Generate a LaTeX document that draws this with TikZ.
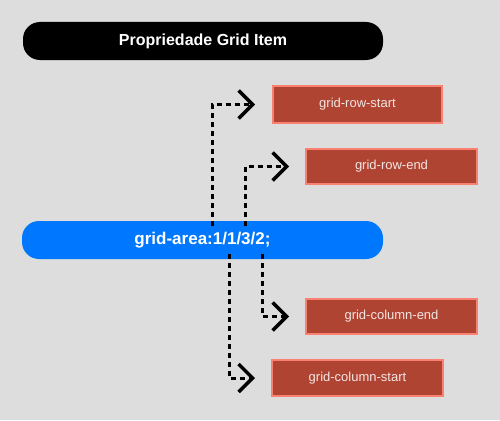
\documentclass[tikz,border=0pt]{standalone}
\usepackage{fontspec}
\setmainfont{Liberation Sans}
\usetikzlibrary{arrows.meta}
\definecolor{bgc}{RGB}{221,221,221}
\definecolor{barblue}{RGB}{0,119,255}
\definecolor{boxfill}{RGB}{176,68,50}
\definecolor{boxline}{RGB}{250,128,114}
\definecolor{boxtext}{RGB}{242,230,228}
\tikzset{
  pill/.style={rounded corners=17pt, inner sep=0pt, text=white, font=\bfseries},
  propbox/.style={draw=boxline, line width=2pt, fill=boxfill, text=boxtext, inner sep=0pt, minimum height=35pt, minimum width=169pt, font=\fontsize{13}{15}\selectfont},
  link/.style={line width=3pt, dash pattern=on 5pt off 4pt, -{Straight Barb[length=14pt,width=28pt,line width=3.5pt]}}
}
\begin{document}
\begin{tikzpicture}[x=1pt,y=-1pt]
\fill[bgc] (0,0) rectangle (500,420);
\useasboundingbox (0,0) rectangle (500,420);
\node[pill, fill=black, minimum width=360pt, minimum height=38pt, font=\bfseries\fontsize{16}{18}\selectfont] (title) at (203,41) {Propriedade Grid Item};
\node[pill, fill=barblue, minimum width=361pt, minimum height=38pt, font=\bfseries\fontsize{17}{19}\selectfont] (bar) at (202.5,240) {grid-area:1/1/3/2;};
\node[propbox, minimum height=37pt] (rs) at (357.5,104.5) {grid-row-start};
\node[propbox, minimum width=171pt] (re) at (391.5,166.5) {grid-row-end};
\node[propbox, minimum width=171pt] (ce) at (391.5,316.5) {grid-column-end};
\node[propbox, minimum width=171pt, minimum height=36pt] (cs) at (357.5,378) {grid-column-start};
\coordinate (s1) at (212,226);
\coordinate (s2) at (245,226);
\coordinate (s3) at (262,254);
\coordinate (s4) at (229,254);
\draw[link] (s1) |- ([xshift=-17pt]rs.west);
\draw[link] (s2) |- ([xshift=-16pt]re.west);
\draw[link] (s3) |- ([xshift=-16pt]ce.west);
\draw[link] (s4) |- ([xshift=-16pt]cs.west);
\end{tikzpicture}
\end{document}
